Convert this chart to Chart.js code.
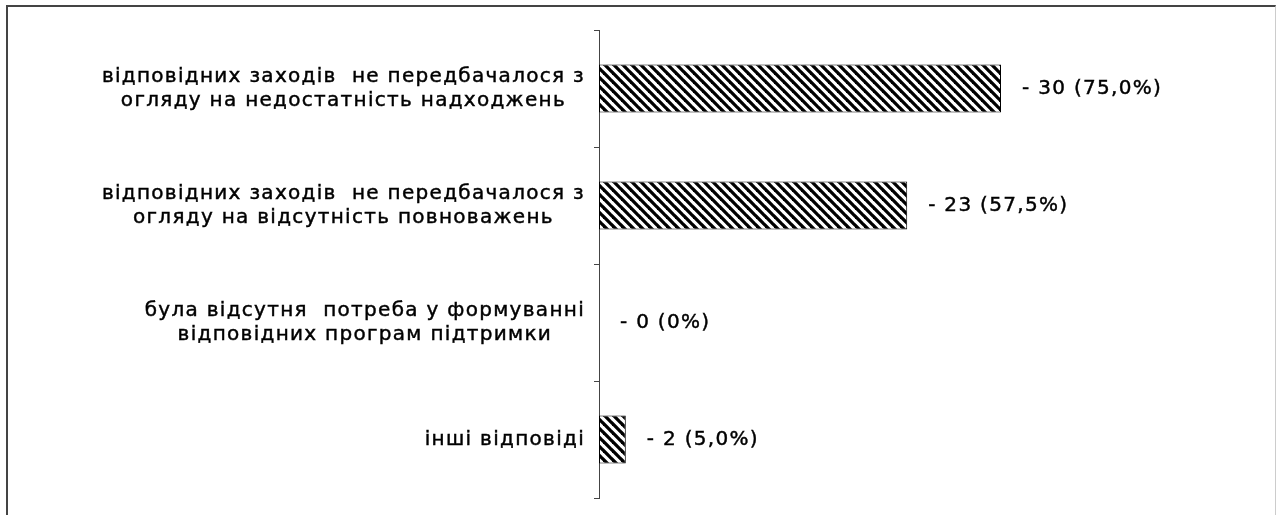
<!DOCTYPE html>
<html><head><meta charset="utf-8">
<script src="https://cdn.jsdelivr.net/npm/chart.js@4"></script>
<style>
html,body{margin:0;padding:0;background:#fff;width:1279px;height:515px;overflow:hidden;}
#frame{position:absolute;left:6px;top:5px;width:1270px;height:520px;border-left:2px solid #444;border-top:2px solid #444;border-right:1px solid #ccc;box-sizing:border-box;}
#wrap{position:absolute;left:0;top:0;width:1279px;height:515px;}
</style></head>
<body>
<div id="frame"></div>
<div id="wrap"><canvas id="c" width="1279" height="515"></canvas></div>
<script>
const categories = [
  ["відповідних заходів  не передбачалося з", "огляду на недостатність надходжень"],
  ["відповідних заходів  не передбачалося з", "огляду на відсутність повноважень"],
  ["була відсутня  потреба у формуванні", "відповідних програм підтримки"],
  ["інші відповіді"]
];
const counts = [30, 23, 0, 2];
const percents = ["75,0%", "57,5%", "0%", "5,0%"];

const FONT = '20px "DejaVu Sans"';
const SPACING = '1.3px';

function makePattern(){
  const s = 9;
  const c = document.createElement('canvas');
  c.width = s; c.height = s;
  const g = c.getContext('2d');
  g.fillStyle = '#fff'; g.fillRect(0,0,s,s);
  g.strokeStyle = '#000'; g.lineWidth = 3.3;
  for (const k of [-s, 0, s]) {
    g.beginPath(); g.moveTo(k - 2, -2); g.lineTo(k + s + 2, s + 2); g.stroke();
  }
  return document.getElementById('c').getContext('2d').createPattern(c, 'repeat');
}

function drawText(ctx, t, x, y){
  ctx.fillText(t, x, y);
  ctx.strokeText(t, x, y);
}

const labelPlugin = {
  id: 'labels',
  afterDraw(chart){
    const ctx = chart.ctx;
    const ys = chart.scales.y;
    const meta = chart.getDatasetMeta(0);
    ctx.save();
    ctx.font = FONT;
    ctx.letterSpacing = SPACING;
    ctx.fillStyle = '#000';
    ctx.strokeStyle = '#000';
    ctx.lineWidth = 0.45;
    ctx.textBaseline = 'middle';
    const right = ys.right - 14;
    const lh = 24;
    categories.forEach((lines, i) => {
      const yc = ys.getPixelForValue(i);
      const widths = lines.map(l => ctx.measureText(l).width);
      const maxW = Math.max(...widths);
      const cx = right - maxW / 2;
      ctx.textAlign = 'left';
      lines.forEach((l, j) => {
        const y = yc + (j - (lines.length - 1) / 2) * lh;
        drawText(ctx, l, cx - widths[j] / 2, y);
      });
      const bar = meta.data[i];
      drawText(ctx, '- ' + counts[i] + ' (' + percents[i] + ')', bar.x + 21, bar.y);
    });
    ctx.restore();
  }
};

new Chart(document.getElementById('c'), {
  type: 'bar',
  data: {
    labels: categories.map(l => l.join(' ')),
    datasets: [{
      data: counts,
      backgroundColor: makePattern(),
      borderColor: '#000',
      borderWidth: 1,
      borderSkipped: false,
      categoryPercentage: 1,
      barPercentage: 0.41
    }]
  },
  options: {
    indexAxis: 'y',
    responsive: false,
    animation: false,
    events: [],
    layout: { padding: { top: 30, bottom: 17, right: 10, left: 0 } },
    plugins: { legend: { display: false }, tooltip: { enabled: false } },
    scales: {
      x: { display: false, min: 0, max: 50 },
      y: {
        afterFit: s => { s.width = 599; },
        ticks: { display: false },
        grid: { drawOnChartArea: false, drawTicks: true, tickLength: 5, color: '#444', offset: true },
        border: { display: true, color: '#444', width: 1 }
      }
    }
  },
  plugins: [labelPlugin]
});
</script>
</body></html>
